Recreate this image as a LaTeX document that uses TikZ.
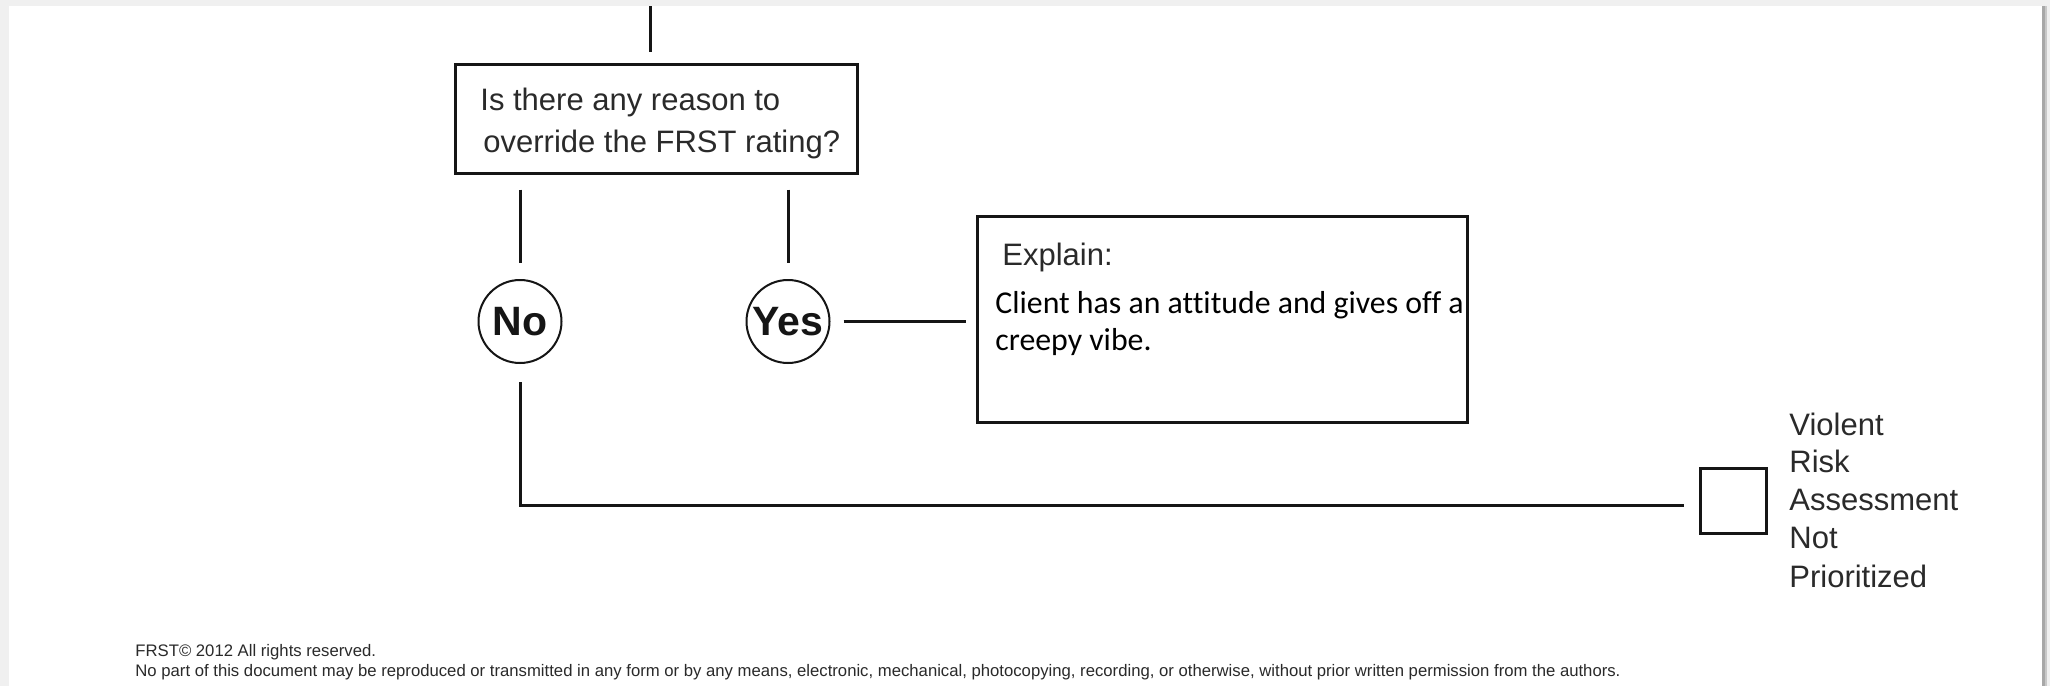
\documentclass[tikz,border=0pt]{standalone}
\usepackage{fontspec}
\setmainfont{Liberation Sans}
\newfontfamily\answerfont[Ligatures={NoCommon}]{Carlito}
\definecolor{pagegray}{HTML}{F0F0F0}
\definecolor{edgedark}{HTML}{A8A8A8}
\definecolor{edgelight}{HTML}{C8C8C8}
\definecolor{ink}{HTML}{151515}
\definecolor{printink}{HTML}{2A2A2A}
\begin{document}
\begin{tikzpicture}[x=0.5pt,y=-0.5pt,
  connector/.style={draw=ink, line width=1.5pt},
  framebox/.style={rectangle, draw=ink, line width=1.5pt, inner sep=0pt},
  choice/.style={circle, draw=ink, line width=1pt, minimum size=41.5pt, inner sep=0pt,
    text=ink, font=\fontsize{20.5}{24}\selectfont\bfseries},
  printed/.style={anchor=base west, inner sep=0pt, text=printink,
    font=\fontsize{15.5}{18}\selectfont},
  handwritten/.style={anchor=base west, inner sep=0pt, text=black,
    font=\answerfont\fontsize{15.9}{18}\selectfont},
  footnote/.style={anchor=base west, inner sep=0pt, text=printink,
    font=\fontsize{8.35}{10}\selectfont}]

% page background and frame
\useasboundingbox (0,0) rectangle (2050,686);
\fill[pagegray] (0,0) rectangle (2050,686);
\fill[white] (9,6) rectangle (2042,686);
\fill[edgedark] (2042,6) rectangle (2044.5,686);
\fill[edgelight] (2044.5,6) rectangle (2047,686);

% question box
\coordinate (entry) at (650,6);
\node[framebox, minimum width=201pt, minimum height=54.5pt] (question) at (656,118.5) {};
\node[printed] (qline1) at (480,110) {Is there any reason to};
\node[printed] (qline2) at (483,152) {override the FRST rating?};

% answers
\node[choice] (no) at (520,321.5) {No};
\node[choice] (yes) at (788,321.5) {Yes};

% explanation box
\node[framebox, minimum width=245pt, minimum height=103pt] (explain) at (1222,319) {};
\node[printed] (explainhead) at (1002,265) {Explain:};
\node[handwritten] (reason1) at (995,313) {Client has an attitude and gives off a};
\node[handwritten] (reason2) at (995,350) {creepy vibe.};

% outcome check box
\node[framebox, minimum width=33pt, minimum height=32.5pt] (outcome) at (1733,500.5) {};
\foreach \txt/\yy [count=\i] in {Violent/435, Risk/472, Assessment/510, Not/548, Prioritized/587}
  \node[printed] (outcome\i) at (1789,\yy) {\txt};

% connectors
\draw[connector, shorten >=5.5pt] (entry) -- (entry |- question.north);
\draw[connector, shorten <=7.5pt, shorten >=8pt] (question.south -| no) -- (no.north);
\draw[connector, shorten <=7.5pt, shorten >=8pt] (question.south -| yes) -- (yes.north);
\draw[connector, shorten <=6.5pt, shorten >=5pt] (yes.east) -- (explain.west |- yes.east);
\coordinate (turn) at (520,505);
\draw[connector, shorten <=9pt, shorten >=7.5pt] (no.south) -- (turn) -- (outcome.west |- turn);

% copyright notice
\node[footnote] (copy1) at (135,656) {FRST© 2012 All rights reserved.};
\node[footnote] (copy2) at (135,676) {No part of this document may be reproduced or transmitted in any form or by any means, electronic, mechanical, photocopying, recording, or otherwise, without prior written permission from the authors.};
\end{tikzpicture}
\end{document}
